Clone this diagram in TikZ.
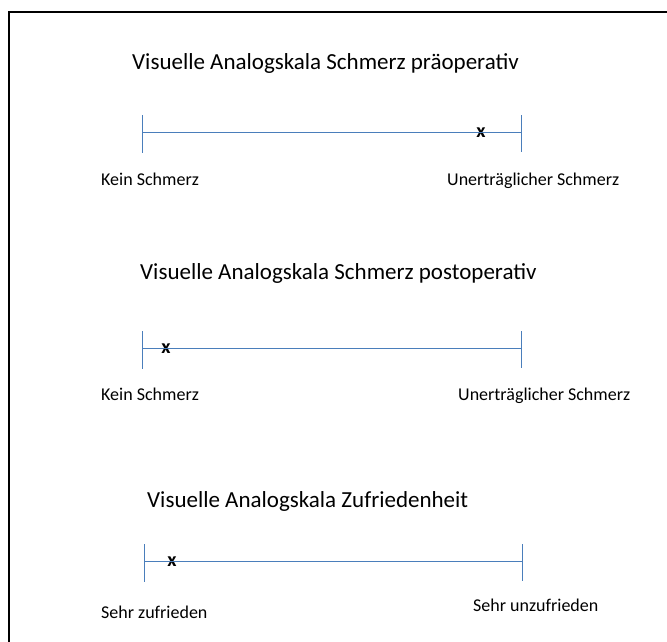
\documentclass[tikz,border=0pt]{standalone}
\usepackage{fontspec}
\setmainfont{Carlito}
\usetikzlibrary{calc,positioning}
\definecolor{scaleblue}{HTML}{4A7EBB}

\begin{document}
\begin{tikzpicture}[x=1pt,y=-1pt]

  % Styles
  \tikzstyle{heading}=[anchor=base west,inner sep=0pt,font=\fontsize{23}{27}\selectfont]
  \tikzstyle{endtext}=[anchor=base west,inner sep=0pt,font=\fontsize{18}{21}\selectfont]
  \tikzstyle{cross}=[inner sep=0pt,font=\fontsize{20}{24}\selectfont\bfseries]
  \tikzstyle{bar}=[draw=scaleblue,line width=1pt]
  \tikzstyle{frame}=[draw,line width=2pt]

  % ===========================================================================

  \useasboundingbox (0,0) rectangle (667,642);
  \draw[frame] (9,642) -- (9,12) -- (667,12);

  % Scale 1
  \node[heading] (t1) at (132,70) {Visuelle Analogskala Schmerz präoperativ};
  \coordinate (a1) at (142,132);
  \coordinate (b1) at (521,132);
  \node[cross] (x1) at (481,133) {x};
  \node[endtext] (l1) at (101,185) {Kein Schmerz};
  \node[endtext] (r1) at (447,185) {Unerträglicher Schmerz};

  % Scale 2
  \node[heading] (t2) at (140,279) {Visuelle Analogskala Schmerz postoperativ};
  \coordinate (a2) at (142,348);
  \coordinate (b2) at (521,348);
  \node[cross] (x2) at (166,349) {x};
  \node[endtext] (l2) at (101,400) {Kein Schmerz};
  \node[endtext] (r2) at (458,400) {Unerträglicher Schmerz};

  % Scale 3
  \node[heading] (t3) at (147,507) {Visuelle Analogskala Zufriedenheit};
  \coordinate (a3) at (144,561);
  \coordinate (b3) at (522,561);
  \node[cross] (x3) at (172,562) {x};
  \node[endtext] (l3) at (101,618) {Sehr zufrieden};
  \node[endtext] (r3) at (473,611) {Sehr unzufrieden};

  % Draw bars
  \foreach \i in {1,2,3} {
    \draw[bar] (a\i) -- (b\i);
    \draw[bar] ([yshift=17pt]a\i) -- ([yshift=-21pt]a\i);
    \draw[bar] ([yshift=17pt]b\i) -- ([yshift=-20pt]b\i);
  }

\end{tikzpicture}
\end{document}
